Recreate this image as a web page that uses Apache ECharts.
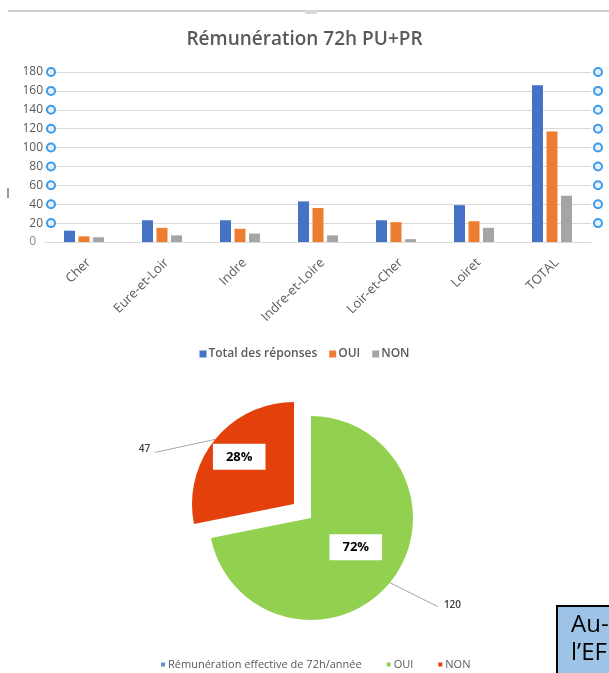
<!DOCTYPE html>
<html>
<head>
<meta charset="utf-8">
<script src="https://cdn.jsdelivr.net/npm/echarts@6/dist/echarts.min.js"></script>
<style>
html,body{margin:0;padding:0;background:#fff;}
#c{width:609px;height:673px;}
</style>
</head>
<body>
<div id="c"></div>
<script>
// ---- data ----
var categories = ['Cher', 'Eure-et-Loir', 'Indre', 'Indre-et-Loire', 'Loir-et-Cher', 'Loiret', 'TOTAL'];
var totalReponses = [12, 23, 23, 43, 23, 39, 166];
var oui = [6, 15, 14, 36, 21, 22, 117];
var non = [5, 7, 9, 7, 3, 15, 49];
var yTicks = [0, 20, 40, 60, 80, 100, 120, 140, 160, 180];
var pieNames = ['OUI', 'NON'];
var pieValues = [120, 47];
var pieLegendTitle = 'Rémunération effective de 72h/année';

var FONT = '"Open Sans", "Noto Sans", sans-serif';
var chart = echarts.init(document.getElementById('c'));

var circleStyle = {width: 6, height: 6, borderRadius: 6, borderWidth: 2, borderColor: '#3d9be9', backgroundColor: '#e6f1fb'};

var pieData = pieNames.map(function (n, i) {
  return {name: n, value: pieValues[i], selected: n === 'NON'};
});

// leader-line offsets for the outside value labels (relative to slice edge)
var leaderOffsets = [[48, 24], [-60, 13]];
var innerLabelShift = [[3, -5], [-13, -13]];

var option = {
  animation: false,
  textStyle: {fontFamily: FONT},
  title: {
    text: 'Rémunération 72h PU+PR',
    left: 'center', top: 25,
    textStyle: {fontFamily: FONT, fontSize: 19, fontWeight: 600, color: '#595959'}
  },
  legend: [{
    data: ['Total des réponses', 'OUI', 'NON'],
    top: 343, left: 'center',
    icon: 'rect', itemWidth: 7, itemHeight: 7, itemGap: 12,
    textStyle: {fontFamily: FONT, fontSize: 12, fontWeight: 600, color: '#595959', padding: [0, 0, 0, -3]}
  }, {
    data: [
      {name: pieLegendTitle},
      {name: 'OUI', itemStyle: {color: '#92d050'}},
      {name: 'NON', itemStyle: {color: '#e8400c'}}
    ],
    top: 654, left: 156,
    icon: 'rect', itemWidth: 4, itemHeight: 4, itemGap: 25,
    textStyle: {fontFamily: FONT, fontSize: 11, color: '#595959', padding: [0, 0, 0, -2]}
  }],
  grid: {left: 45, right: 18, top: 72, bottom: 431, containLabel: false},
  xAxis: {
    type: 'category', data: categories,
    axisLine: {lineStyle: {color: '#d9d9d9'}},
    axisTick: {show: false},
    axisLabel: {rotate: 45, margin: 14, fontSize: 13, color: '#595959', fontFamily: FONT, interval: 0, verticalAlign: 'top'}
  },
  yAxis: [{
    type: 'value', min: yTicks[0], max: yTicks[yTicks.length - 1], interval: 20,
    axisLine: {show: false}, axisTick: {show: false},
    splitLine: {lineStyle: {color: '#d9d9d9'}},
    axisLabel: {
      margin: -9,
      formatter: function (v) { return v === 0 ? '{z|0}' : '{v|' + v + '}{c|}'; },
      rich: {
        v: {fontSize: 12, color: '#595959', fontFamily: FONT, padding: [0, 5, 0, 0]},
        z: {fontSize: 12, color: '#8c8c8c', fontFamily: FONT, padding: [0, 18, 0, 0]},
        c: circleStyle
      }
    }
  }, {
    type: 'value', position: 'right', min: yTicks[0], max: yTicks[yTicks.length - 1], interval: 20,
    axisLine: {show: false}, axisTick: {show: false}, splitLine: {show: false},
    axisLabel: {
      margin: 4,
      formatter: function (v) { return v === 0 ? '' : '{c|}'; },
      rich: {c: circleStyle}
    }
  }],
  series: [
    {name: 'Total des réponses', type: 'bar', data: totalReponses, barWidth: 11, barGap: '32%', itemStyle: {color: '#4472c4'}},
    {name: 'OUI', type: 'bar', data: oui, barWidth: 11, barGap: '32%', itemStyle: {color: '#ed7d31'}},
    {name: 'NON', type: 'bar', data: non, barWidth: 11, barGap: '32%', itemStyle: {color: '#a5a5a5'}},
    {name: pieLegendTitle, type: 'scatter', data: [], itemStyle: {color: '#4472c4'}},
    {
      name: 'pie', type: 'pie', center: [311, 518], radius: 102,
      startAngle: 90, clockwise: true,
      selectedMode: 'single', selectedOffset: 22,
      data: pieData,
      itemStyle: {borderWidth: 0},
      color: ['#92d050', '#e3400c'],
      label: {
        position: 'inside',
        formatter: function (p) { return Math.round(p.percent) + '%'; },
        backgroundColor: '#ffffff', padding: [7, 13, 6, 13],
        fontFamily: FONT, fontSize: 13, fontWeight: 'bold', color: '#000'
      },
      labelLayout: function (p) {
        var s = innerLabelShift[p.dataIndex];
        return {dx: s[0], dy: s[1]};
      },
      labelLine: {show: false},
      emphasis: {disabled: true}
    },
    {
      name: 'pieValues', type: 'pie', center: [311, 518], radius: 102,
      startAngle: 90, clockwise: true, silent: true,
      selectedMode: 'single', selectedOffset: 22,
      data: pieData,
      itemStyle: {color: 'rgba(0,0,0,0)', borderWidth: 0},
      label: {
        position: 'outside',
        formatter: '{c}',
        fontFamily: FONT, fontSize: 10, fontWeight: 600, color: '#404040'
      },
      labelLine: {show: true, length: 20, length2: 10, lineStyle: {color: '#a6a6a6', width: 1}},
      labelLayout: function (p) {
        var pts = p.labelLinePoints;
        var r = p.labelRect;
        if (!pts || !pts.length || !r) { return {}; }
        var p0 = pts[0];
        var o = leaderOffsets[p.dataIndex];
        var end = [p0[0] + o[0], p0[1] + o[1]];
        var right = o[0] > 0;
        var targetCy = end[1] - (right ? 2 : 3);
        var dx = right ? (end[0] + 6 - r.x) : (end[0] - 5 - (r.x + r.width));
        var dy = targetCy - (r.y + r.height / 2);
        return {dx: dx, dy: dy, labelLinePoints: [p0, end]};
      },
      emphasis: {disabled: true}
    }
  ],
  graphic: [
    {type: 'rect', shape: {x: 8, y: 10, width: 601, height: 2}, style: {fill: '#cfcfcf'}, silent: true},
    {type: 'rect', shape: {x: 305, y: 10, width: 12, height: 4, r: 1}, style: {fill: '#d9d9d9'}, silent: true},
    {type: 'rect', shape: {x: 7, y: 188, width: 2, height: 10}, style: {fill: '#9a9a9a'}, silent: true},
    {type: 'rect', shape: {x: 557, y: 606, width: 70, height: 80}, style: {fill: '#9dc3e6', stroke: '#000', lineWidth: 2}, silent: true},
    {type: 'text', x: 571, y: 613, style: {text: 'Au-', font: '24px "Open Sans", sans-serif', fill: '#000'}, silent: true},
    {type: 'text', x: 571, y: 641, style: {text: 'l’EF', font: '24px "Open Sans", sans-serif', fill: '#000'}, silent: true}
  ]
};
chart.setOption(option);
</script>
</body>
</html>
